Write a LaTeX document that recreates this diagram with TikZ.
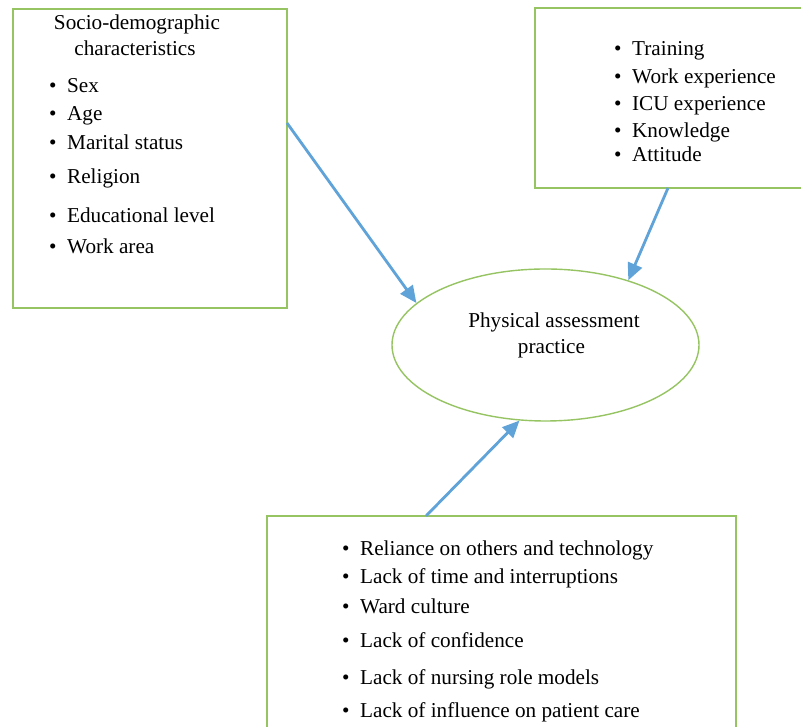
\documentclass[tikz,border=0pt]{standalone}
\usepackage{fontspec}
\setmainfont{Liberation Serif}
\usetikzlibrary{arrows.meta,shapes.geometric}
\definecolor{boxgreen}{RGB}{150,196,98}
\definecolor{arrowblue}{RGB}{96,163,217}
\newcommand\itm[1]{\makebox[18pt][l]{\textbullet}#1}
\begin{document}
\begin{tikzpicture}[x=1pt,y=1pt,
  greenbox/.style={draw=boxgreen,line width=1.4pt},
  txt/.style={inner sep=0pt,anchor=base west,font=\fontsize{21.2}{25}\selectfont},
  ctxt/.style={inner sep=0pt,anchor=base,font=\fontsize{21.2}{25}\selectfont},
  conn/.style={draw=arrowblue,line width=2.8pt,-{Triangle[length=17pt,width=15pt]}}]
\useasboundingbox (0,0) rectangle (801,727);
\fill[white] (0,0) rectangle (801,727);
% boxes
\node[greenbox,minimum width=274pt,minimum height=299pt,inner sep=0pt] (lbox) at (150,568.5) {};
\node[greenbox,minimum width=275pt,minimum height=180pt,inner sep=0pt] (trbox) at (672.5,629) {};
\node[greenbox,minimum width=469pt,minimum height=224pt,inner sep=0pt] (bbox) at (501.5,99) {};
\node[greenbox,ellipse,minimum width=307pt,minimum height=152pt,inner sep=0pt] (pel) at (545.5,382) {};
% ellipse text
\node[ctxt] (p1) at (554,399) {Physical assessment};
\node[ctxt] (p2) at (551.5,373) {practice};
% left box text
\node[ctxt] (l0a) at (137,697) {Socio-demographic};
\node[ctxt] (l0b) at (135,671) {characteristics};
\node[txt] (l1) at (49,634) {\itm{Sex}};
\node[txt] (l2) at (49,606) {\itm{Age}};
\node[txt] (l3) at (49,577) {\itm{Marital status}};
\node[txt] (l4) at (49,543) {\itm{Religion}};
\node[txt] (l5) at (49,504) {\itm{Educational level}};
\node[txt] (l6) at (49,473) {\itm{Work area}};
% top-right box text
\node[txt] (r1) at (614,671) {\itm{Training}};
\node[txt] (r2) at (614,643) {\itm{Work experience}};
\node[txt] (r3) at (614,616) {\itm{ICU experience}};
\node[txt] (r4) at (614,589) {\itm{Knowledge}};
\node[txt] (r5) at (614,565) {\itm{Attitude}};
% bottom box text
\node[txt] (b1) at (342,171) {\itm{Reliance on others and technology}};
\node[txt] (b2) at (342,143) {\itm{Lack of time and interruptions}};
\node[txt] (b3) at (342,113) {\itm{Ward culture}};
\node[txt] (b4) at (342,79) {\itm{Lack of confidence}};
\node[txt] (b5) at (342,42) {\itm{Lack of nursing role models}};
\node[txt] (b6) at (342,9) {\itm{Lack of influence on patient care}};
% connectors
\coordinate (s1) at (287,604);
\coordinate (s2) at (668,539);
\coordinate (s3) at (426,211);
\draw[conn] (s1) -- (pel.162);
\draw[conn] (s2) -- (pel.38.7);
\draw[conn] (s3) -- (pel.251.9);
\end{tikzpicture}
\end{document}
